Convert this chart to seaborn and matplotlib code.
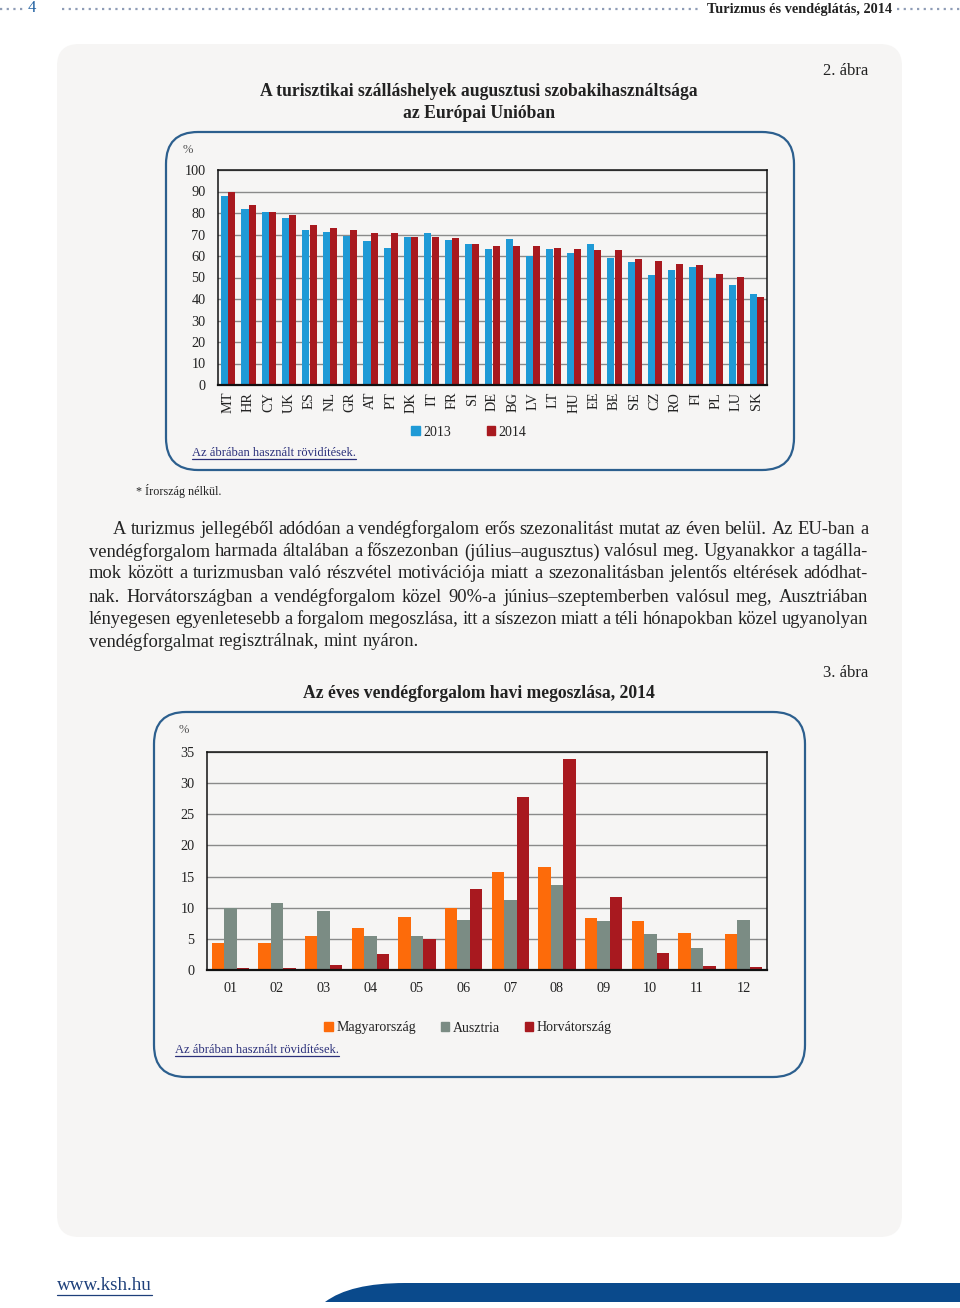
import matplotlib
matplotlib.use("Agg")
import matplotlib.pyplot as plt
import seaborn as sns
import pandas as pd
import numpy as np
from matplotlib.patches import FancyBboxPatch, Patch, PathPatch, Rectangle
from matplotlib.path import Path

# ---------------- data ----------------
countries = ["MT", "HR", "CY", "UK", "ES", "NL", "GR", "AT", "PT", "DK", "IT", "FR", "SI",
             "DE", "BG", "LV", "LT", "HU", "EE", "BE", "SE", "CZ", "RO", "FI", "PL", "LU", "SK"]
occ_2013 = [87.8, 82.0, 80.4, 77.5, 72.3, 71.2, 69.2, 66.9, 63.5, 68.9, 70.9, 67.6, 65.5,
            63.3, 67.8, 59.9, 63.3, 61.3, 65.8, 58.9, 57.0, 51.3, 53.6, 54.7, 49.6, 46.4, 42.2]
occ_2014 = [90.0, 83.8, 80.4, 79.2, 74.6, 73.2, 72.3, 70.9, 70.9, 68.9, 68.9, 68.4, 65.5,
            64.7, 64.7, 64.6, 63.5, 63.3, 63.0, 62.9, 58.7, 57.8, 56.2, 55.6, 51.8, 50.1, 41.0]
years = ["2013", "2014"]

months = ["01", "02", "03", "04", "05", "06", "07", "08", "09", "10", "11", "12"]
hungary = [4.3, 4.3, 5.5, 6.8, 8.55, 9.95, 15.7, 16.5, 8.3, 7.8, 5.9, 5.8]
austria = [10.0, 10.75, 9.5, 5.4, 5.4, 8.0, 11.2, 13.6, 7.9, 5.7, 3.5, 8.0]
croatia = [0.37, 0.4, 0.75, 2.5, 4.9, 13.0, 27.7, 33.9, 11.8, 2.7, 0.7, 0.5]
series2 = ["Magyarország", "Ausztria", "Horvátország"]

yticks1 = list(range(0, 101, 10))
yticks2 = list(range(0, 36, 5))

title1 = ["A turisztikai szálláshelyek augusztusi szobakihasználtsága", "az Európai Unióban"]
title2 = "Az éves vendégforgalom havi megoszlása, 2014"
paragraph = [
    "A turizmus jellegéből adódóan a vendégforgalom erős szezonalitást mutat az éven belül. Az EU-ban a",
    "vendégforgalom harmada általában a főszezonban (július–augusztus) valósul meg. Ugyanakkor a tagálla-",
    "mok között a turizmusban való részvétel motivációja miatt a szezonalitásban jelentős eltérések adódhat-",
    "nak. Horvátországban a vendégforgalom közel 90%-a június–szeptemberben valósul meg, Ausztriában",
    "lényegesen egyenletesebb a forgalom megoszlása, itt a síszezon miatt a téli hónapokban közel ugyanolyan",
    "vendégforgalmat regisztrálnak, mint nyáron.",
]

# ---------------- style ----------------
sns.set_theme(style="white")
plt.rcParams["font.family"] = ["Liberation Serif", "DejaVu Serif"]
TXT = "#222222"
PANEL = "#f6f5f4"
BLUE = "#1f9ad6"
RED = "#a8191f"
ORANGE = "#fd6b0a"
GREY = "#7b8c84"
BORDER = "#2c5f8e"
LINK = "#2a2f7a"

W, H = 960, 1308
fig = plt.figure(figsize=(W / 100, H / 100), dpi=100)
fig.patch.set_facecolor("white")

# page overlay in pixel coordinates
pg = fig.add_axes([0, 0, 1, 1], zorder=0)
pg.set_xlim(0, W)
pg.set_ylim(H, 0)
pg.axis("off")


def fax(x0, y0, x1, y1):
    return [x0 / W, 1 - y1 / H, (x1 - x0) / W, (y1 - y0) / H]


# grey panel
pg.add_patch(FancyBboxPatch((57, 44), 845, 1193, boxstyle="round,pad=0,rounding_size=22",
                            fc=PANEL, ec="none", zorder=0))
# chart boxes
pg.add_patch(FancyBboxPatch((166, 132), 628, 338, boxstyle="round,pad=0,rounding_size=32",
                            fc="none", ec=BORDER, lw=1.6, zorder=1))
pg.add_patch(FancyBboxPatch((154, 712), 651, 365, boxstyle="round,pad=0,rounding_size=32",
                            fc="none", ec=BORDER, lw=1.6, zorder=1))

# header
pg.plot([0, 26], [9, 9], ls=(0, (1, 2)), color="#8e9cb6", lw=1.6)
pg.plot([62, 700], [9, 9], ls=(0, (1, 2)), color="#8e9cb6", lw=1.6)
pg.plot([897, 960], [9, 9], ls=(0, (1, 2)), color="#8e9cb6", lw=1.6)
pg.text(32, 8, "4", fontsize=12, color="#1f5fa0", ha="center", va="center")
pg.text(892, 9, "Turizmus és vendéglátás, 2014", fontsize=10.3, fontweight="bold",
        color=TXT, ha="right", va="center")

# footer
pg.add_patch(PathPatch(Path([(325, 1302), (350, 1283), (405, 1283), (960, 1283), (960, 1302), (325, 1302)],
                            [Path.MOVETO, Path.CURVE3, Path.CURVE3, Path.LINETO, Path.LINETO, Path.CLOSEPOLY]),
                       fc="#0a4a8c", ec="none"))
renderer = fig.canvas.get_renderer()


def underlined(x, y, s, fs, color):
    t = pg.text(x, y, s, fontsize=fs, color=color, ha="left", va="center")
    bb = t.get_window_extent(renderer)
    pg.plot([x, x + bb.width], [y + fs * 0.72, y + fs * 0.72], color=color, lw=0.9)


underlined(57, 1285, "www.ksh.hu", 13.7, "#1d3f7a")

# titles and labels
pg.text(868, 71, "2. ábra", fontsize=12, color=TXT, ha="right", va="center")
pg.text(479, 92, title1[0], fontsize=12.7, fontweight="bold", color=TXT, ha="center", va="center")
pg.text(479, 113, title1[1], fontsize=12.7, fontweight="bold", color=TXT, ha="center", va="center")
pg.text(183, 150, "%", fontsize=9, color="#555555", ha="left", va="center")
underlined(192, 453, "Az ábrában használt rövidítések.", 9.0, LINK)
pg.text(136, 491, "* Írország nélkül.", fontsize=8.7, color=TXT, ha="left", va="center")

pg.text(868, 673, "3. ábra", fontsize=12, color=TXT, ha="right", va="center")
pg.text(479, 693, title2, fontsize=12.7, fontweight="bold", color=TXT, ha="center", va="center")
pg.text(179, 730, "%", fontsize=9, color="#555555", ha="left", va="center")
underlined(175, 1050, "Az ábrában használt rövidítések.", 9.0, LINK)

# justified paragraph
PFS = 13.3
ys = [529, 552, 574, 597, 619, 642]
for i, (line, y) in enumerate(zip(paragraph, ys)):
    x0 = 113 if i == 0 else 89
    x1 = 868
    words = line.split(" ")
    texts = [pg.text(0, y, w, fontsize=PFS, color=TXT, ha="left", va="center") for w in words]
    widths = [t.get_window_extent(renderer).width for t in texts]
    if i < len(paragraph) - 1:
        gap = (x1 - x0 - sum(widths)) / (len(words) - 1)
    else:
        sp = pg.text(0, y, "a a", fontsize=PFS)
        spw = sp.get_window_extent(renderer).width
        aw = pg.text(0, y, "aa", fontsize=PFS)
        gap = spw - aw.get_window_extent(renderer).width
        sp.remove(); aw.remove()
    x = x0
    for t, w in zip(texts, widths):
        t.set_x(x)
        x += w + gap

# ---------------- chart 1 ----------------
df1 = pd.DataFrame({
    "country": countries * 2,
    "year": [years[0]] * len(countries) + [years[1]] * len(countries),
    "value": occ_2013 + occ_2014,
})
ax1 = fig.add_axes(fax(218, 170, 767, 385), zorder=2)
ax1.set_facecolor(PANEL)
sns.barplot(data=df1, x="country", y="value", hue="year", order=countries, hue_order=years,
            palette=[BLUE, RED], saturation=1, width=0.72, gap=0, errorbar=None,
            legend=False, ax=ax1, linewidth=0, edgecolor="none")
ax1.set_xlim(-0.5, len(countries) - 0.5)
ax1.set_ylim(0, 100)
ax1.set_yticks(yticks1)
ax1.set_xlabel("")
ax1.set_ylabel("")
ax1.yaxis.grid(True, color="#8a8a8a", lw=1)
ax1.set_axisbelow(True)
ax1.tick_params(axis="y", length=0, pad=9, labelsize=10.3, labelcolor=TXT)
ax1.tick_params(axis="x", length=0, pad=5, labelsize=10.3, labelcolor=TXT, rotation=90)
for s in ax1.spines.values():
    s.set_visible(True)
    s.set_color("#111111")
    s.set_linewidth(1.1)
ax1.spines["bottom"].set_linewidth(1.6)
fig.legend(handles=[Patch(color=BLUE, label=years[0]), Patch(color=RED, label=years[1])],
           loc="center", bbox_to_anchor=(469 / W, 1 - 432 / H), ncol=2, frameon=False,
           handlelength=0.6, handleheight=0.6, handletextpad=0.25, columnspacing=2.6,
           fontsize=10, labelcolor=TXT)

# ---------------- chart 2 ----------------
df2 = pd.DataFrame({
    "month": months * 3,
    "series": [series2[0]] * 12 + [series2[1]] * 12 + [series2[2]] * 12,
    "value": hungary + austria + croatia,
})
ax2 = fig.add_axes(fax(207, 752, 767, 970), zorder=2)
ax2.set_facecolor(PANEL)
sns.barplot(data=df2, x="month", y="value", hue="series", order=months, hue_order=series2,
            palette=[ORANGE, GREY, RED], saturation=1, width=0.8, gap=0, errorbar=None,
            legend=False, ax=ax2, linewidth=0, edgecolor="none")
ax2.set_xlim(-0.5, len(months) - 0.5)
ax2.set_ylim(0, 35)
ax2.set_yticks(yticks2)
ax2.set_xlabel("")
ax2.set_ylabel("")
ax2.yaxis.grid(True, color="#8a8a8a", lw=1)
ax2.set_axisbelow(True)
ax2.tick_params(axis="y", length=0, pad=9, labelsize=10.3, labelcolor=TXT)
ax2.tick_params(axis="x", length=0, pad=9, labelsize=10.3, labelcolor=TXT)
for s in ax2.spines.values():
    s.set_visible(True)
    s.set_color("#111111")
    s.set_linewidth(1.1)
ax2.spines["bottom"].set_linewidth(1.6)
fig.legend(handles=[Patch(color=c, label=l) for c, l in zip([ORANGE, GREY, RED], series2)],
           loc="center", bbox_to_anchor=(468 / W, 1 - 1028 / H), ncol=3, frameon=False,
           handlelength=0.6, handleheight=0.6, handletextpad=0.25, columnspacing=1.8,
           fontsize=10, labelcolor=TXT)

fig.savefig("out.png", dpi=100, facecolor="white")
